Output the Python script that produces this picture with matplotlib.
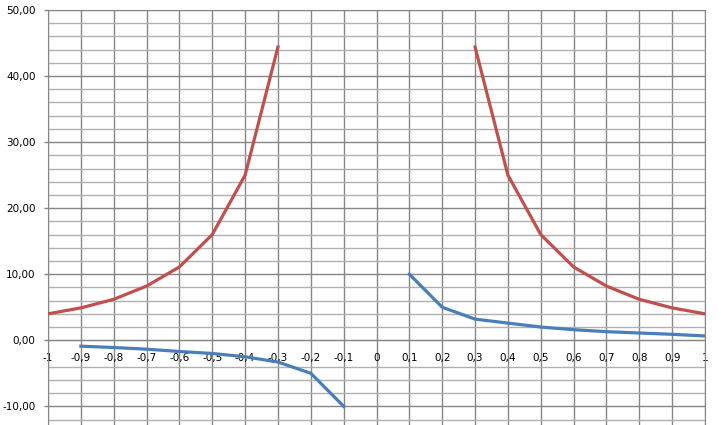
import matplotlib
matplotlib.use("Agg")
import matplotlib.pyplot as plt
from matplotlib.ticker import FuncFormatter, MultipleLocator, FixedLocator
import numpy as np

RED, BLUE, GRID_MAJ, GRID_MIN = "#C0504D", "#4A7EBB", "#868686", "#B0B0B0"

categories = ["-1", "-0,9", "-0,8", "-0,7", "-0,6", "-0,5", "-0,4", "-0,3", "-0,2", "-0,1",
              "0", "0,1", "0,2", "0,3", "0,4", "0,5", "0,6", "0,7", "0,8", "0,9", "1"]
nan = np.nan
red_vals = [4.0, 4.9, 6.2, 8.2, 11.1, 16.0, 25.0, 44.4, nan, nan,
            nan, nan, nan, 44.4, 25.0, 16.0, 11.1, 8.2, 6.2, 4.9, 4.0]
blue_vals = [nan, -0.9, -1.1, -1.35, -1.7, -2.0, -2.5, -3.3, -5.0, -10.0,
             nan, 10.0, 5.0, 3.2, 2.6, 2.0, 1.6, 1.3, 1.1, 0.9, 0.65]
# minor gridlines every 2; the one at -2 sits under the category labels and is hidden
minor_y = [v for v in range(-12, 51, 2) if v % 10 != 0 and v != -2]

fig = plt.figure(figsize=(7.21, 4.25), dpi=100)
ax = fig.add_axes([48 / 721, 0, (705 - 48) / 721, 1 - 10 / 425])

x = np.arange(len(categories))
ax.plot(x, red_vals, color=RED, lw=2.3, solid_joinstyle="round", zorder=5)
ax.plot(x, blue_vals, color=BLUE, lw=2.3, solid_joinstyle="round", zorder=5)

ax.set_xlim(0, len(categories) - 1)
ax.set_ylim(-12.83, 50)

ax.yaxis.set_major_locator(MultipleLocator(10))
ax.yaxis.set_minor_locator(FixedLocator(minor_y))
ax.yaxis.set_major_formatter(FuncFormatter(lambda v, p: f"{v:.2f}".replace(".", ",")))
ax.set_xticks(x)
ax.set_xticklabels(categories)

ax.grid(True, which="major", axis="both", color=GRID_MAJ, lw=1, zorder=0)
ax.grid(True, which="minor", axis="y", color=GRID_MIN, lw=1, zorder=0)
ax.set_axisbelow(True)

for s in ["top", "right", "left"]:
    ax.spines[s].set_color(GRID_MAJ)
ax.spines["bottom"].set_position(("data", 0))
ax.spines["bottom"].set_color(GRID_MAJ)

ax.tick_params(axis="x", length=0, pad=9, labelsize=7.5, colors="black")
ax.tick_params(axis="y", which="major", length=3, width=1, color=GRID_MAJ, pad=6,
               labelsize=7.5, labelcolor="black")
ax.tick_params(axis="y", which="minor", length=0)

fig.savefig("out.png", dpi=100)
